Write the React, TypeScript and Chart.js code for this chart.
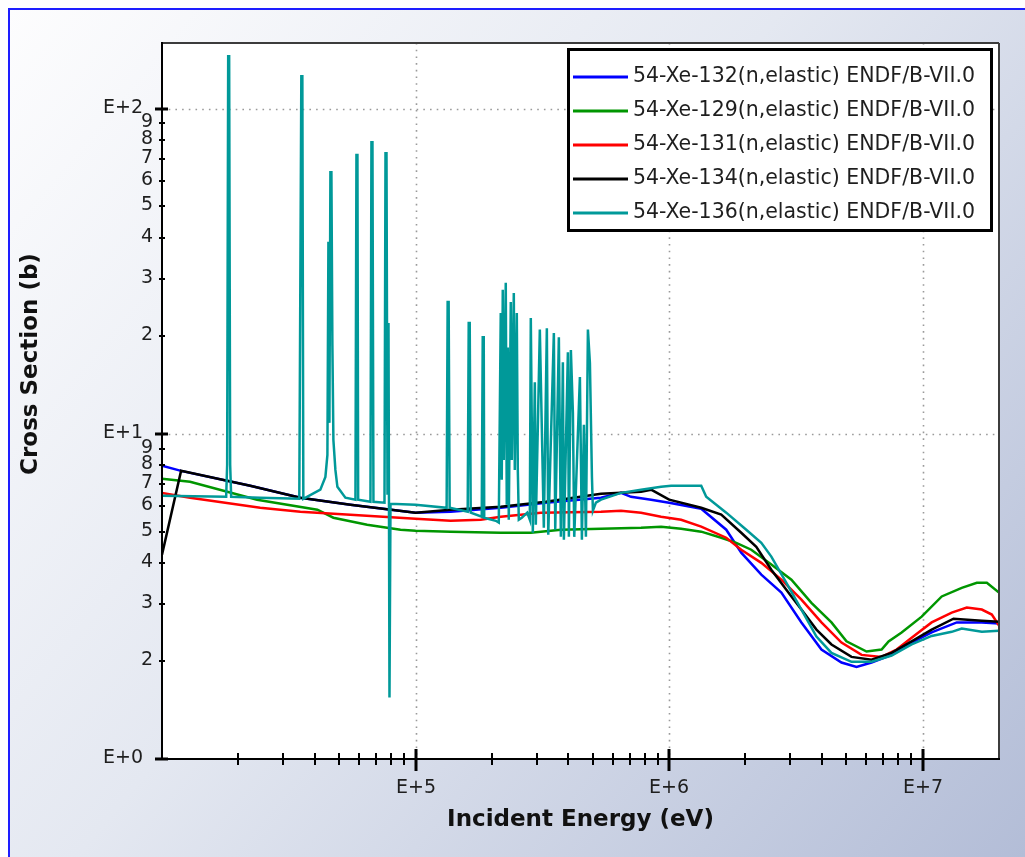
import React, { useEffect, useRef } from "react";
import { Chart, registerables } from "chart.js";

Chart.register(...registerables);

const W = 1025;
const H = 857;

// ---- Data (incident energy in eV, cross section in barns) ----
const seriesLabels = [
  "54-Xe-132(n,elastic) ENDF/B-VII.0",
  "54-Xe-129(n,elastic) ENDF/B-VII.0",
  "54-Xe-131(n,elastic) ENDF/B-VII.0",
  "54-Xe-134(n,elastic) ENDF/B-VII.0",
  "54-Xe-136(n,elastic) ENDF/B-VII.0",
];
const seriesColors = ["#0000ff", "#009600", "#ff0000", "#000000", "#009999"];

const xe132E = [10000, 11890, 22280, 35120, 55350, 100000, 137500, 216800, 326400, 538600,
  646100, 707600, 849000, 1000000, 1338500, 1680000, 1925000, 2310000, 2772000, 3325000,
  3988000, 4784000, 5484000, 6287000, 7541000, 9047000, 10850000, 13630000, 17110000, 20000000];
const xe132S = [7.97, 7.69, 6.92, 6.36, 6.05, 5.72, 5.76, 5.92, 6.14, 6.36,
  6.58, 6.40, 6.27, 6.14, 5.88, 5.07, 4.31, 3.69, 3.25, 2.63,
  2.17, 1.98, 1.92, 1.98, 2.09, 2.28, 2.45, 2.63, 2.63, 2.61];

const xe129E = [10000, 12900, 23710, 40990, 47420, 64420, 87230, 100000, 137500, 216800,
  284800, 374200, 538600, 775000, 929800, 1115300, 1338500, 1605400, 1840000, 2109000,
  2530000, 3036000, 3641000, 4368000, 5006000, 6007000, 6886000, 7337000, 8260000, 9909000,
  11890000, 14260000, 16350000, 17910000, 20000000];
const xe129S = [7.27, 7.12, 6.27, 5.84, 5.52, 5.25, 5.07, 5.03, 5.00, 4.96,
  4.96, 5.07, 5.10, 5.14, 5.18, 5.10, 5.00, 4.79, 4.62, 4.40,
  3.96, 3.56, 3.02, 2.63, 2.30, 2.14, 2.17, 2.30, 2.45, 2.74,
  3.16, 3.36, 3.48, 3.48, 3.25];

const xe131E = [10000, 12900, 24400, 35120, 55350, 100000, 137500, 180700, 216800, 312000,
  538600, 646100, 775000, 929800, 1115300, 1338500, 1680000, 1925000, 2310000, 2772000,
  3325000, 3988000, 4784000, 5741000, 6886000, 7892000, 9047000, 10850000, 13020000, 14930000,
  17110000, 18740000, 20000000];
const xe131S = [6.58, 6.36, 5.92, 5.76, 5.64, 5.48, 5.40, 5.44, 5.56, 5.72,
  5.76, 5.80, 5.72, 5.56, 5.44, 5.18, 4.79, 4.40, 4.01, 3.56,
  3.09, 2.63, 2.28, 2.09, 2.06, 2.17, 2.36, 2.63, 2.82, 2.92,
  2.88, 2.78, 2.57];

const xe134E = [10000, 11890, 22280, 35120, 55350, 100000, 137500, 216800, 326400, 538600,
  775000, 849000, 1000000, 1338500, 1605400, 1925000, 2207000, 2530000, 3036000, 3325000,
  3811000, 4368000, 5240000, 6287000, 7541000, 9047000, 10850000, 13230000, 17110000, 20000000];
const xe134S = [4.25, 7.69, 6.92, 6.36, 6.05, 5.72, 5.84, 5.96, 6.18, 6.54,
  6.63, 6.73, 6.27, 5.92, 5.64, 4.96, 4.49, 3.82, 3.16, 2.88,
  2.50, 2.25, 2.06, 2.02, 2.12, 2.30, 2.50, 2.70, 2.66, 2.64];

const xe136E = [
  10000, 17910, 18070, 18240, 18400, 18570, 18740, 24400,
  34790, 35440, 35770, 36090, 42120, 44100, 44910, 45320,
  45740, 46150, 46570, 46990, 47420, 48290, 49170, 52880,
  57930, 58460, 58990, 59380, 66390, 66990, 67610, 68230,
  75420, 76110, 76800, 77500, 78210, 78920, 79640, 100000,
  132600, 133830, 135050, 136300, 160560, 162040, 163530, 165030,
  182380, 184040, 185740, 186570, 207180, 212920, 216770, 218750,
  220770, 222770, 226860, 228960, 231040, 233160, 237450, 239600,
  244050, 246250, 250780, 253100, 255390, 262430, 275660, 282230,
  284770, 290060, 295390, 298050, 309100, 320560, 329460, 333660,
  351120, 355550, 367420, 374160, 381030, 384560, 398810, 402410,
  409800, 417400, 422510, 444780, 452940, 461260, 469720, 478340,
  487120, 496130, 500600, 514500, 538600, 646100, 775000, 929800,
  1018400, 1338500, 1400600, 1680000, 2015000, 2310000, 2530000, 2901000,
  3325000, 3811000, 4368000, 5240000, 6287000, 7541000, 9047000, 10850000,
  13020000, 14260000, 17110000, 20000000];
const xe136S = [
  6.45, 6.40, 8.03, 144.7, 144.7, 8.03, 6.40, 6.36,
  6.31, 125.7, 125.7, 6.31, 6.73, 7.37, 8.61, 38.9,
  10.8, 63.7, 63.7, 18.7, 9.57, 7.74, 6.87, 6.36,
  6.27, 71.9, 71.9, 6.27, 6.18, 78.8, 78.8, 6.18,
  6.14, 72.9, 72.9, 6.49, 21.9, 1.545, 6.09, 6.05,
  5.92, 25.4, 25.4, 5.92, 5.76, 21.9, 21.9, 5.72,
  5.56, 19.8, 19.8, 5.52, 5.40, 5.33, 23.5, 7.22,
  27.7, 8.31, 29.1, 6.05, 18.4, 5.44, 25.4, 8.31,
  27.1, 7.74, 23.5, 7.74, 5.44, 5.52, 5.72, 5.44,
  22.7, 4.96, 14.4, 5.25, 20.9, 5.14, 21.1, 4.89,
  20.4, 5.07, 19.8, 4.82, 16.6, 4.72, 17.8, 4.82,
  18.1, 11.6, 4.82, 14.95, 4.72, 10.65, 4.82, 20.9,
  16.5, 7.37, 5.8, 6.14, 6.27, 6.58, 6.73, 6.87,
  6.92, 6.92, 6.40, 5.72, 5.07, 4.62, 4.19, 3.48,
  2.88, 2.38, 2.12, 1.99, 1.99, 2.08, 2.25, 2.39,
  2.46, 2.52, 2.46, 2.48];

const seriesEnergies = [xe132E, xe129E, xe131E, xe134E, xe136E];
const seriesSigmas = [xe132S, xe129S, xe131S, xe134S, xe136S];
const seriesOrder = [4, 3, 2, 1, 0];

// ---- Axes ----
const xMin = 1e4;
const xMax = 2e7;
const yMin = 1;
const yMax = 159;
const xDecades = [1e4, 1e5, 1e6, 1e7];
const xMajorValues = [1e5, 1e6, 1e7];
const xMajorLabels = ["E+5", "E+6", "E+7"];
const yDecades = [1, 10, 100];
const yMajorLabels = ["E+0", "E+1", "E+2"];
const minorSteps = [2, 3, 4, 5, 6, 7, 8, 9];
const minorLabels = ["2", "3", "4", "5", "6", "7", "8", "9"];
const xTitle = "Incident Energy (eV)";
const yTitle = "Cross Section (b)";

const FONT = '"DejaVu Sans", "Liberation Sans", sans-serif';

function seg(ctx: CanvasRenderingContext2D, x1: number, y1: number, x2: number, y2: number) {
  ctx.beginPath();
  ctx.moveTo(x1, y1);
  ctx.lineTo(x2, y2);
  ctx.stroke();
}

const framePlugin = {
  id: "endfFrame",
  beforeDraw(chart: any) {
    const { ctx, chartArea: a, scales } = chart;
    ctx.save();
    ctx.fillStyle = "#ffffff";
    ctx.fillRect(0, 0, W, H);
    const g = ctx.createLinearGradient(8, 8, W, H);
    g.addColorStop(0, "#fdfdfe");
    g.addColorStop(0.45, "#e4e8f1");
    g.addColorStop(1, "#b3bdd7");
    ctx.fillStyle = g;
    ctx.fillRect(8, 8, W - 8, H - 8);
    ctx.strokeStyle = "#1e1eff";
    ctx.lineWidth = 2;
    ctx.beginPath();
    ctx.moveTo(9, H);
    ctx.lineTo(9, 9);
    ctx.lineTo(W, 9);
    ctx.stroke();
    ctx.fillStyle = "#ffffff";
    ctx.fillRect(a.left, a.top, a.right - a.left, a.bottom - a.top);

    // dotted major grid lines
    ctx.strokeStyle = "#9a9a9a";
    ctx.lineWidth = 1.6;
    ctx.setLineDash([1.6, 5.1]);
    for (const v of xMajorValues) {
      const px = Math.round(scales.x.getPixelForValue(v)) + 0.5;
      seg(ctx, px, a.top, px, a.bottom);
    }
    for (const v of yDecades) {
      if (v <= yMin) continue;
      const py = Math.round(scales.y.getPixelForValue(v)) + 0.5;
      seg(ctx, a.left, py, a.right, py);
    }
    ctx.restore();
  },
  afterDatasetsDraw(chart: any) {
    const { ctx, chartArea: a, scales } = chart;
    const xs = scales.x;
    const ys = scales.y;
    ctx.save();
    // plot frame
    ctx.lineWidth = 2;
    ctx.strokeStyle = "#3c3c3c";
    seg(ctx, a.left, a.top, a.right, a.top);
    seg(ctx, a.right, a.top, a.right, a.bottom);
    ctx.strokeStyle = "#000000";
    seg(ctx, a.left, a.top - 1, a.left, a.bottom + 1);
    seg(ctx, a.left - 1, a.bottom, a.right + 1, a.bottom);

    // y ticks and labels
    ctx.fillStyle = "#1e1e1e";
    ctx.textAlign = "right";
    ctx.textBaseline = "middle";
    ctx.font = "19px " + FONT;
    yDecades.forEach((d, i) => {
      const py = Math.round(ys.getPixelForValue(d));
      ctx.lineWidth = 3;
      seg(ctx, a.left - 7, py, a.left + 6, py);
      ctx.fillText(yMajorLabels[i], a.left - 19, py - 1);
      minorSteps.forEach((m, j) => {
        const v = m * d;
        if (v >= yMax) return;
        const p = Math.round(ys.getPixelForValue(v));
        ctx.lineWidth = 2;
        seg(ctx, a.left - 3, p, a.left + 3, p);
        ctx.fillText(minorLabels[j], a.left - 9, p - 1);
      });
    });

    // x ticks and labels
    ctx.textAlign = "center";
    ctx.textBaseline = "middle";
    xDecades.forEach((d) => {
      minorSteps.forEach((m) => {
        const v = m * d;
        if (v >= xMax) return;
        const p = Math.round(xs.getPixelForValue(v));
        ctx.lineWidth = 2;
        seg(ctx, p, a.bottom - 6, p, a.bottom + 6);
      });
    });
    xMajorValues.forEach((v, i) => {
      const p = Math.round(xs.getPixelForValue(v));
      ctx.lineWidth = 3;
      seg(ctx, p, a.bottom - 10, p, a.bottom + 12);
      ctx.fillText(xMajorLabels[i], p, a.bottom + 29);
    });

    // axis titles
    ctx.fillStyle = "#111111";
    ctx.font = "bold 23px " + FONT;
    ctx.fillText(xTitle, (a.left + a.right) / 2, 820);
    ctx.save();
    ctx.translate(31, 364);
    ctx.rotate(-Math.PI / 2);
    ctx.fillText(yTitle, 0, 0);
    ctx.restore();

    // legend
    const lx = 567, ly = 48, lw = 426, lh = 184;
    ctx.fillStyle = "#ffffff";
    ctx.fillRect(lx, ly, lw, lh);
    ctx.strokeStyle = "#000000";
    ctx.lineWidth = 3;
    ctx.strokeRect(lx + 1.5, ly + 1.5, lw - 3, lh - 3);
    ctx.font = "20.5px " + FONT;
    ctx.textAlign = "left";
    ctx.textBaseline = "middle";
    seriesLabels.forEach((label, i) => {
      const ry = 77 + i * 34;
      ctx.strokeStyle = seriesColors[i];
      ctx.lineWidth = 3;
      seg(ctx, lx + 6, ry, lx + 61, ry);
      ctx.fillStyle = "#1e1e1e";
      ctx.fillText(label, lx + 66, ry);
    });
    ctx.restore();
  },
};

export default function App() {
  const canvasRef = useRef<HTMLCanvasElement | null>(null);

  useEffect(() => {
    const canvas = canvasRef.current;
    if (!canvas) return;
    const datasets = seriesLabels.map((label, i) => ({
      label,
      data: seriesEnergies[i].map((e, k) => ({ x: e, y: seriesSigmas[i][k] })),
      borderColor: seriesColors[i],
      backgroundColor: seriesColors[i],
      borderWidth: 2.5,
      pointRadius: 0,
      tension: 0,
      fill: false,
      order: seriesOrder[i],
    }));
    const chart = new Chart(canvas, {
      type: "line",
      data: { datasets },
      options: {
        responsive: false,
        animation: false,
        events: [],
        layout: { padding: { left: 162, top: 43, right: W - 999, bottom: H - 759 } },
        scales: {
          x: { type: "logarithmic", display: false, min: xMin, max: xMax },
          y: { type: "logarithmic", display: false, min: yMin, max: yMax },
        },
        plugins: { legend: { display: false }, tooltip: { enabled: false }, title: { display: false } },
      },
      plugins: [framePlugin],
    });
    return () => chart.destroy();
  }, []);

  return (
    <div style={{ position: "fixed", left: 0, top: 0, width: W, height: H, overflow: "hidden" }}>
      <canvas ref={canvasRef} width={W} height={H} style={{ display: "block", width: W, height: H }} />
    </div>
  );
}
